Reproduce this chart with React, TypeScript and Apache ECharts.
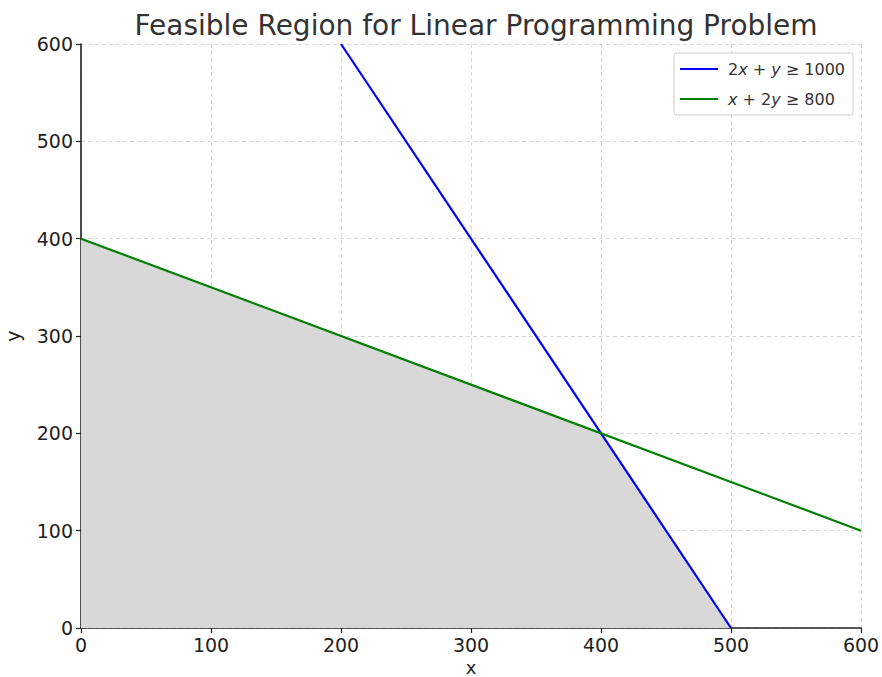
import React, { useEffect, useRef } from "react";
import * as echarts from "echarts";

const blueName = "2x + y ≥ 1000";
const greenName = "x + 2y ≥ 800";
const blueLine: number[][] = [[200, 600], [500, 0]];
const greenLine: number[][] = [[0, 400], [600, 100]];
const feasible: number[][] = [[0, 400], [400, 200], [500, 0]];
const xTicks = [0, 100, 200, 300, 400, 500, 600];
const yTicks = [0, 100, 200, 300, 400, 500, 600];
const xAxisName = "x";

export default function App() {
  const ref = useRef<HTMLDivElement>(null);
  useEffect(() => {
    const chart = echarts.init(ref.current!, undefined, { renderer: "svg" });
    const font = "DejaVu Sans";
    chart.setOption({
      animation: false,
      textStyle: { fontFamily: font },
      title: {
        text: "Feasible Region for Linear Programming Problem",
        left: 471,
        textAlign: "center",
        top: 6,
        textStyle: { fontFamily: font, fontSize: 28, fontWeight: "normal", color: "#333" },
      },
      grid: { left: 81, right: 21, top: 44, bottom: 49, outerBoundsMode: "none", containLabel: false },
      graphic: [
        {
          type: "text",
          x: 471,
          y: 667,
          style: {
            text: xAxisName,
            fontFamily: font,
            fontSize: 18,
            lineHeight: 16,
            fill: "#222",
            align: "center",
            verticalAlign: "middle",
          },
        },
      ],
      legend: {
        top: 53,
        right: 29,
        orient: "vertical",
        data: [blueName, greenName],
        itemWidth: 38,
        itemHeight: 12,
        itemGap: 14,
        padding: [8, 8, 8, 6],
        borderColor: "#ccc",
        borderWidth: 1,
        borderRadius: 3,
        backgroundColor: "#fff",
        icon: "path://M0,5 L38,5 L38,7 L0,7 Z",
        formatter: (name: string) =>
          name === blueName
            ? "2{i|x} + {i|y} ≥ 1000"
            : "{i|x} + 2{i|y} ≥ 800",
        textStyle: {
          fontFamily: font,
          fontSize: 16,
          color: "#333",
          padding: [0, 0, 0, 5],
          rich: { i: { fontStyle: "italic", fontFamily: font, fontSize: 16, color: "#333" } },
        },
      },
      xAxis: {
        type: "value",
        min: 0,
        max: 600,
        interval: 100,
        axisLine: { show: true, onZero: false, lineStyle: { color: "#222", width: 1.6 } },
        axisTick: { show: true, length: 5, lineStyle: { color: "#222", width: 1.2 } },
        axisLabel: {
          fontSize: 19,
          lineHeight: 19,
          color: "#222",
          margin: 7,
          formatter: (v: number) => (xTicks.includes(v) ? String(v) : ""),
        },
        splitLine: { show: true, lineStyle: { color: "#ccc", type: [4, 3], width: 0.8 } },
      },
      yAxis: {
        type: "value",
        min: 0,
        max: 600,
        interval: 100,
        name: "y",
        nameLocation: "middle",
        nameGap: 59,
        nameTextStyle: { fontSize: 19, color: "#222", fontFamily: font },
        axisLine: { show: true, onZero: false, lineStyle: { color: "#222", width: 1.6 } },
        axisTick: { show: true, length: 5, lineStyle: { color: "#222", width: 1.2 } },
        axisLabel: {
          fontSize: 19,
          color: "#222",
          margin: 8,
          formatter: (v: number) => (yTicks.includes(v) ? String(v) : ""),
        },
        splitLine: { show: true, lineStyle: { color: "#ccc", type: [4, 3], width: 0.8 } },
      },
      series: [
        {
          name: "Feasible",
          type: "line",
          data: feasible,
          symbol: "none",
          lineStyle: { width: 0 },
          areaStyle: { color: "#d8d8d8", opacity: 1 },
          silent: true,
          z: 1,
        },
        {
          name: blueName,
          type: "line",
          data: blueLine,
          symbol: "none",
          color: "#0000ff",
          lineStyle: { color: "#0000ff", width: 2.2 },
          z: 3,
        },
        {
          name: greenName,
          type: "line",
          data: greenLine,
          symbol: "none",
          color: "#008000",
          lineStyle: { color: "#008000", width: 2.2 },
          z: 3,
        },
      ],
    });
    return () => chart.dispose();
  }, []);
  return <div ref={ref} style={{ width: 882, height: 677, position: "absolute", left: 0, top: 0 }} />;
}
